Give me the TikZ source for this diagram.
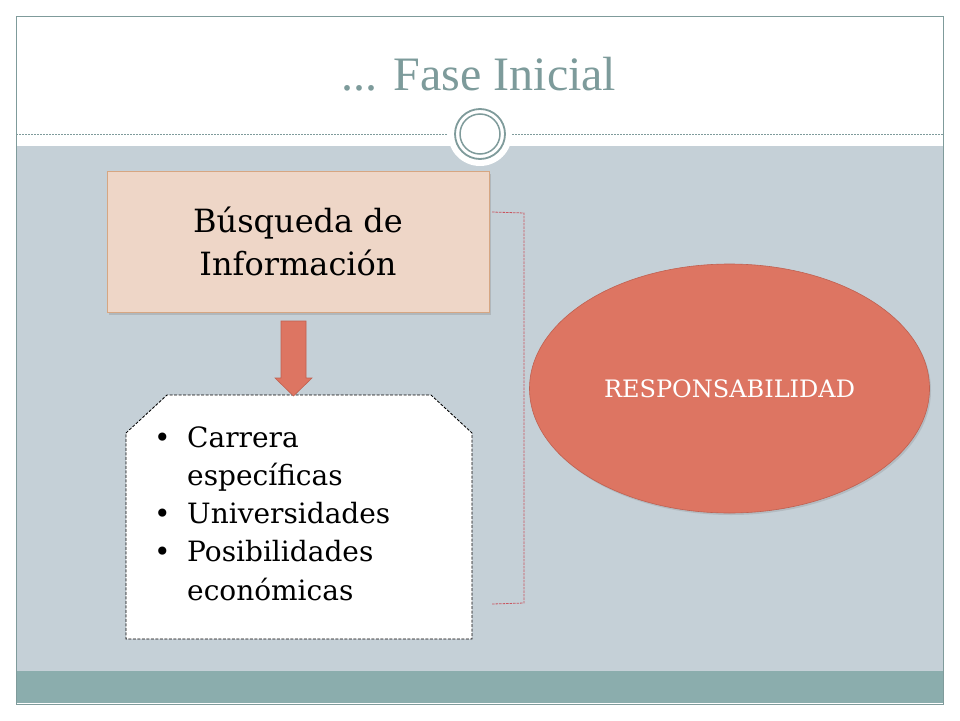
\documentclass[tikz,border=0pt]{standalone}
\usepackage{fontspec}
\setmainfont{DejaVu Serif}
\newfontfamily\titlefont{Liberation Serif}
\usetikzlibrary{shapes.geometric,shadows}
\definecolor{framec}{RGB}{127,155,155}
\definecolor{bluebg}{RGB}{197,208,215}
\definecolor{bandc}{RGB}{139,173,173}
\definecolor{titlec}{RGB}{125,155,155}
\definecolor{peach}{RGB}{238,214,199}
\definecolor{peachb}{RGB}{214,166,130}
\definecolor{salmon}{RGB}{221,117,98}
\definecolor{salmonb}{RGB}{192,96,80}
\definecolor{bracketc}{RGB}{200,85,95}
\tikzset{
  mainbox/.style={draw=peachb, fill=peach, line width=0.8pt, minimum width=382pt, minimum height=141pt, inner sep=0pt, align=center, font=\fontsize{32}{43}\selectfont, drop shadow={opacity=0.3, shadow xshift=2pt, shadow yshift=-3pt}},
  oval/.style={ellipse, draw=salmonb, fill=salmon, line width=0.6pt, minimum width=400pt, minimum height=249pt, inner sep=0pt, text=white, font=\fontsize{24}{24}\selectfont, drop shadow={opacity=0.25, shadow xshift=1.5pt, shadow yshift=-2pt}},
  snipbox/.style={draw=black, fill=white, line width=0.8pt, dash pattern=on 3pt off 1.5pt},
  bracketline/.style={draw=bracketc, line width=0.8pt, dash pattern=on 2.5pt off 1pt},
  blockarrow/.style={fill=salmon, draw=salmonb, line width=0.6pt}
}
\begin{document}
\begin{tikzpicture}[x=1pt,y=-1pt]
\fill[white] (0,0) rectangle (960,720);
\useasboundingbox (0,0) rectangle (960,720);
% background regions
\fill[bluebg] (16,146) rectangle (943,671);
\fill[bandc] (16,671) rectangle (943,703);
\draw[framec, line width=1pt] (16,16) rectangle (943,704);
\draw[framec, line width=0.6pt, dash pattern=on 2pt off 1pt] (16,134) -- (448,134) (512,134) -- (943,134);
% circle ornament
\fill[white] (480,134) circle (32pt);
\draw[framec, line width=1.8pt] (480,134) circle (25pt);
\draw[framec, line width=1.5pt] (480,134) circle (20pt);
% title
\node[anchor=base, inner sep=0pt, text=titlec, font=\titlefont\fontsize{48}{48}\selectfont] (title) at (479,90) {... Fase Inicial};
% main box
\node[mainbox] (busq) at (298,241.5) {Búsqueda de\\Información};
% snipped box
\draw[snipbox] (126,433) -- (167,395) -- (431,395) -- (472,433) -- (472,639) -- (126,639) -- cycle;
\coordinate (infotop) at (293.5,396);
\node[anchor=base west, inner sep=0pt, font=\fontsize{28}{38.3}\selectfont] (list) at (154,447)
  {\begin{tabular}[t]{@{}l@{}l@{}}
   \makebox[33pt][l]{•} & Carrera\\
   & específicas\\
   \makebox[33pt][l]{•} & Universidades\\
   \makebox[33pt][l]{•} & Posibilidades\\
   & económicas
   \end{tabular}};
% block arrow
\draw[blockarrow] (281,321) -- (306,321) -- (306,378) -- (312,378) -- (infotop) -- (275,378) -- (281,378) -- cycle;
% bracket
\coordinate (br1) at (492,212);
\coordinate (br2) at (524,213);
\coordinate (br3) at (524,603);
\coordinate (br4) at (492,604);
\draw[bracketline] (br1) -- (br2) -- (br3) -- (br4);
% ellipse
\node[oval] (resp) at (729.5,388.5) {RESPONSABILIDAD};
\end{tikzpicture}
\end{document}
